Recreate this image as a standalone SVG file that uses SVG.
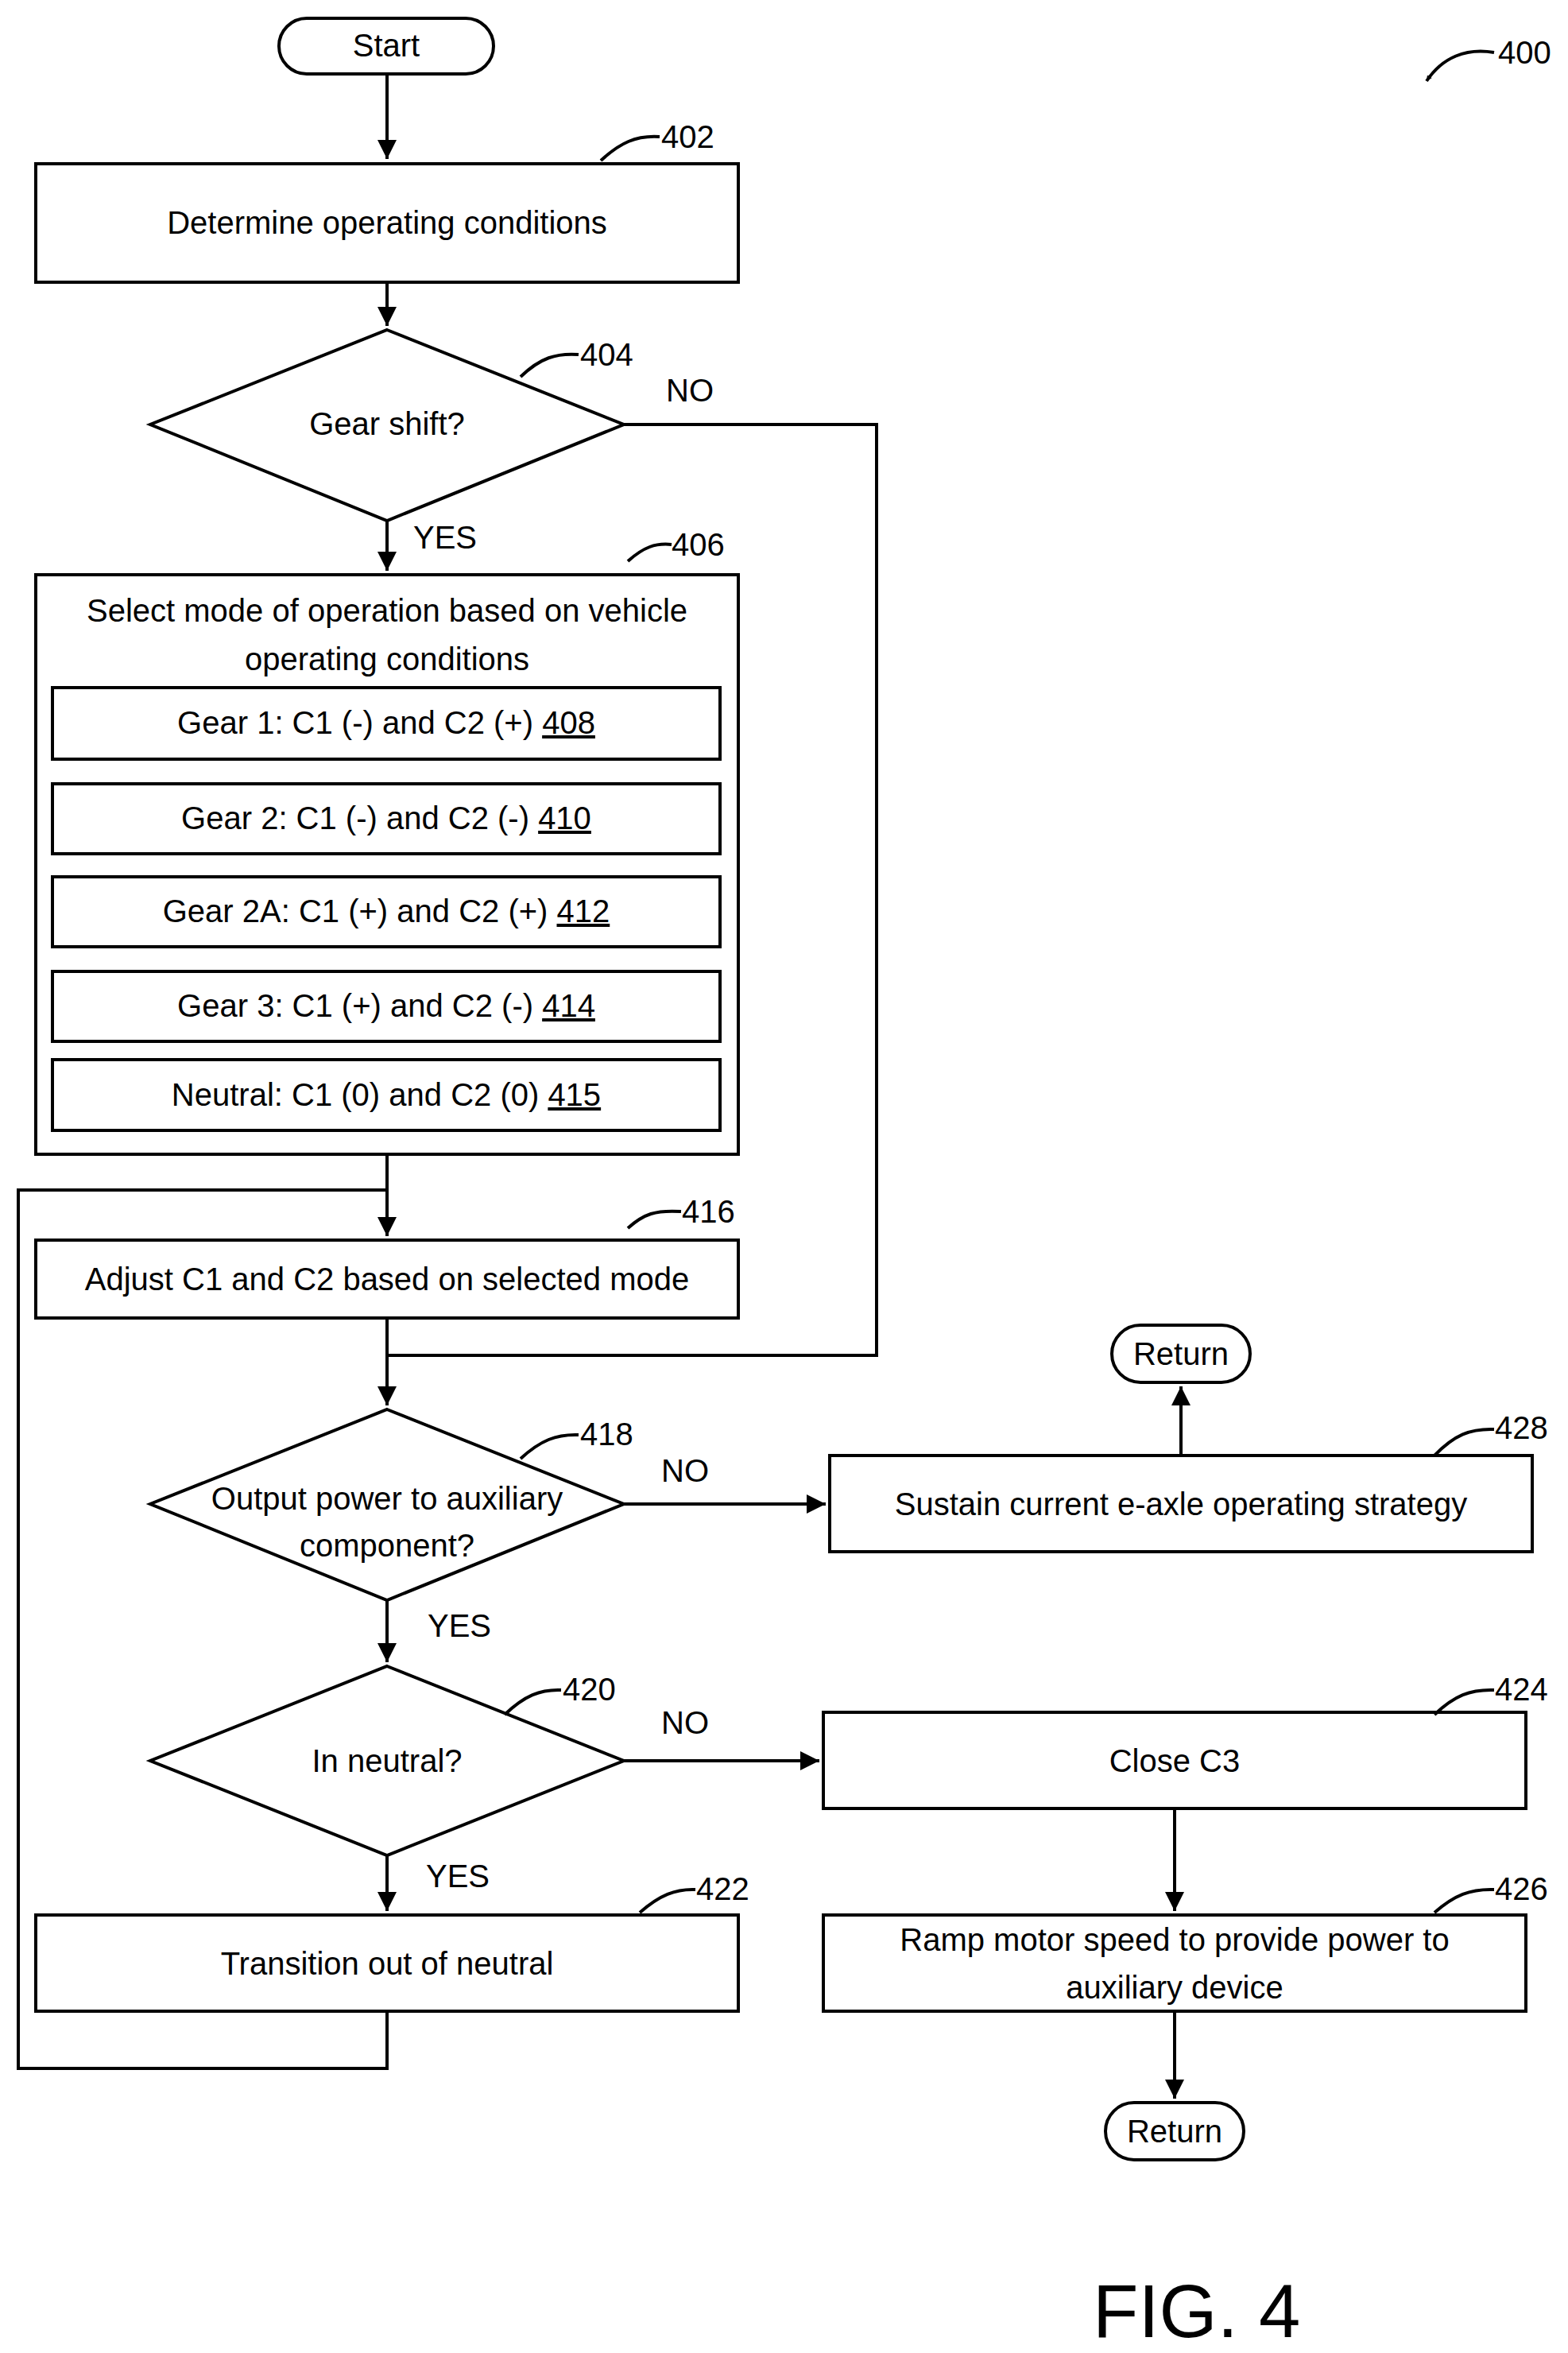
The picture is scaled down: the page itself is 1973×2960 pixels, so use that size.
<svg xmlns="http://www.w3.org/2000/svg" width="1973" height="2960" viewBox="0 0 1973 2960">
<style>
.b{fill:#fff;stroke:#000;stroke-width:4}
.l{fill:none;stroke:#000;stroke-width:4}
.t{font-family:"Liberation Sans",Arial,sans-serif;font-size:40px;text-anchor:middle;fill:#000}
.n{font-family:"Liberation Sans",Arial,sans-serif;font-size:40px;fill:#000}
</style>
<defs><marker id="a" viewBox="0 0 10 10" refX="10" refY="5" markerWidth="7" markerHeight="7" markerUnits="userSpaceOnUse" orient="auto"><path d="M0,0L10,5L0,10z"/></marker>
<marker id="m" viewBox="0 0 10 10" refX="10" refY="5" markerWidth="6" markerHeight="6" orient="auto"><path d="M0,0L10,5L0,10z"/></marker></defs>
<rect width="1973" height="2960" fill="#fff"/>
<g id="connectors">
<path class="l" d="M487,93V200" marker-end="url(#m)"/>
<path class="l" d="M487,355V410" marker-end="url(#m)"/>
<path class="l" d="M487,655V718" marker-end="url(#m)"/>
<path class="l" d="M785,534H1103V1705H487"/>
<path class="l" d="M487,1452V1555" marker-end="url(#m)"/>
<path class="l" d="M487,2530V2602H23V1497H487"/>
<path class="l" d="M487,1658V1768" marker-end="url(#m)"/>
<path class="l" d="M785,1892H1039" marker-end="url(#m)"/>
<path class="l" d="M1486,1831V1744" marker-end="url(#m)"/>
<path class="l" d="M487,2013V2091" marker-end="url(#m)"/>
<path class="l" d="M785,2215H1031" marker-end="url(#m)"/>
<path class="l" d="M487,2334V2404" marker-end="url(#m)"/>
<path class="l" d="M1478,2275V2404" marker-end="url(#m)"/>
<path class="l" d="M1478,2530V2640" marker-end="url(#m)"/>
<text class="n" x="838" y="505">NO</text>
<text class="n" x="520" y="690">YES</text>
<text class="n" x="832" y="1864">NO</text>
<text class="n" x="538" y="2059">YES</text>
<text class="n" x="832" y="2181">NO</text>
<text class="n" x="536" y="2374">YES</text>
</g>
<g id="start"><rect class="b" x="351" y="23" width="270" height="70" rx="35"/><text class="t" x="486" y="71">Start</text></g>
<g id="n402"><rect class="b" x="45" y="206" width="884" height="149"/><text class="t" x="487" y="294">Determine operating conditions</text></g>
<g id="n404"><path class="b" d="M487,415L785,534L487,655L189,534Z"/><text class="t" x="487" y="547">Gear shift?</text></g>
<g id="n406"><rect class="b" x="45" y="723" width="884" height="729"/>
<text class="t" x="487" y="782">Select mode of operation based on vehicle</text><text class="t" x="487" y="843">operating conditions</text>
<rect class="b" x="66" y="865" width="840" height="90"/><text class="t" x="486" y="923">Gear 1: C1 (-) and C2 (+) <tspan text-decoration="underline">408</tspan></text>
<rect class="b" x="66" y="986" width="840" height="88"/><text class="t" x="486" y="1043">Gear 2: C1 (-) and C2 (-) <tspan text-decoration="underline">410</tspan></text>
<rect class="b" x="66" y="1103" width="840" height="88"/><text class="t" x="486" y="1160">Gear 2A: C1 (+) and C2 (+) <tspan text-decoration="underline">412</tspan></text>
<rect class="b" x="66" y="1222" width="840" height="88"/><text class="t" x="486" y="1279">Gear 3: C1 (+) and C2 (-) <tspan text-decoration="underline">414</tspan></text>
<rect class="b" x="66" y="1333" width="840" height="89"/><text class="t" x="486" y="1391">Neutral: C1 (0) and C2 (0) <tspan text-decoration="underline">415</tspan></text></g>
<g id="n416"><rect class="b" x="45" y="1560" width="884" height="98"/><text class="t" x="487" y="1623">Adjust C1 and C2 based on selected mode</text></g>
<g id="n418"><path class="b" d="M487,1773L785,1892L487,2013L189,1892Z"/><text class="t" x="487" y="1899">Output power to auxiliary</text><text class="t" x="487" y="1958">component?</text></g>
<g id="n428"><rect class="b" x="1044" y="1831" width="884" height="121"/><text class="t" x="1486" y="1906">Sustain current e-axle operating strategy</text></g>
<g id="ret1"><rect class="b" x="1399" y="1667" width="174" height="72" rx="36"/><text class="t" x="1486" y="1717">Return</text></g>
<g id="n420"><path class="b" d="M487,2096L785,2215L487,2334L189,2215Z"/><text class="t" x="487" y="2229">In neutral?</text></g>
<g id="n424"><rect class="b" x="1036" y="2154" width="884" height="121"/><text class="t" x="1478" y="2229">Close C3</text></g>
<g id="n426"><rect class="b" x="1036" y="2409" width="884" height="121"/><text class="t" x="1478" y="2454">Ramp motor speed to provide power to</text><text class="t" x="1478" y="2514">auxiliary device</text></g>
<g id="n422"><rect class="b" x="45" y="2409" width="884" height="121"/><text class="t" x="487" y="2484">Transition out of neutral</text></g>
<g id="ret2"><rect class="b" x="1391" y="2645" width="174" height="72" rx="36"/><text class="t" x="1478" y="2695">Return</text></g>
<g id="refs">
<path class="l" d="M756,202C780,180 800,170 830,172"/><text class="n" x="832" y="186">402</text>
<path class="l" d="M655,474C680,450 700,444 728,446"/><text class="n" x="730" y="460">404</text>
<path class="l" d="M790,706C810,688 825,683 845,685"/><text class="n" x="845" y="699">406</text>
<path class="l" d="M790,1545C810,1527 825,1522 857,1524"/><text class="n" x="858" y="1538">416</text>
<path class="l" d="M655,1835C680,1812 700,1804 728,1805"/><text class="n" x="730" y="1818">418</text>
<path class="l" d="M635,2157C660,2133 680,2125 706,2126"/><text class="n" x="708" y="2139">420</text>
<path class="l" d="M805,2406C830,2384 850,2376 875,2377"/><text class="n" x="876" y="2390">422</text>
<path class="l" d="M1805,2157C1830,2133 1850,2125 1880,2126"/><text class="n" x="1881" y="2139">424</text>
<path class="l" d="M1805,2406C1830,2384 1850,2376 1880,2377"/><text class="n" x="1881" y="2390">426</text>
<path class="l" d="M1805,1831C1830,1805 1850,1797 1880,1798"/><text class="n" x="1881" y="1810">428</text>
<path class="l" d="M1880,66C1845,60 1815,72 1795,102" marker-end="url(#a)"/><text class="n" x="1885" y="80">400</text>
</g>
<text class="n" x="1375" y="2940" style="font-size:94px">FIG. 4</text>
</svg>
